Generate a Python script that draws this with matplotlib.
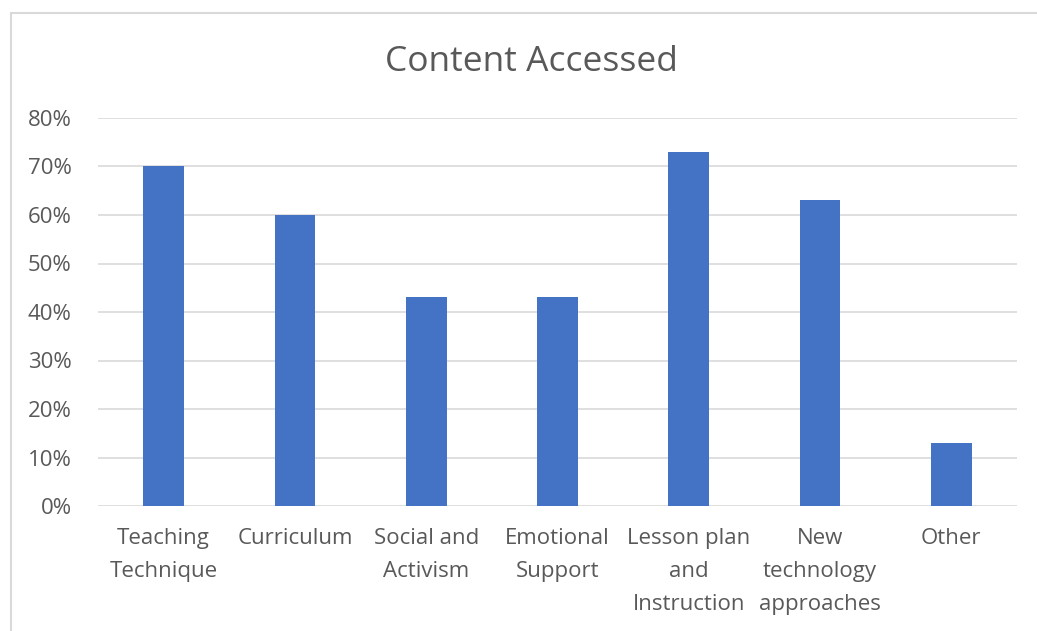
import matplotlib.pyplot as plt
from matplotlib.patches import Rectangle
from matplotlib.ticker import PercentFormatter

categories = ["Teaching\nTechnique", "Curriculum", "Social and\nActivism",
              "Emotional\nSupport", "Lesson plan\nand\nInstruction",
              "New\ntechnology\napproaches", "Other"]
values = [70, 60, 43, 43, 73, 63, 13]
yticks = [0, 10, 20, 30, 40, 50, 60, 70, 80]

plt.rcParams['font.family'] = ['Open Sans', 'DejaVu Sans']
text_color = '#595959'

fig = plt.figure(figsize=(10.37, 6.31), dpi=100)
ax = fig.add_axes([98 / 1037, 1 - 506 / 631, (1017 - 98) / 1037, (506 - 118) / 631])

# chart frame
fig.patches.append(Rectangle((11 / 1037, -0.1), 1.1, 1 - 13 / 631 + 0.1,
                             transform=fig.transFigure, fill=False,
                             edgecolor='#d9d9d9', linewidth=1.5))

x = range(len(categories))
ax.bar(x, values, width=0.31, color='#4472c4', zorder=3)

ax.set_xlim(-0.5, len(categories) - 0.5)
ax.set_ylim(0, 80)
ax.set_yticks(yticks)
ax.yaxis.set_major_formatter(PercentFormatter(decimals=0))
ax.set_xticks(list(x))
ax.set_xticklabels(categories, linespacing=1.74)
ax.grid(axis='y', color='#d9d9d9', linewidth=1.2, zorder=0)
for s in ax.spines.values():
    s.set_visible(False)
ax.tick_params(length=0, colors=text_color, labelsize=16)
ax.tick_params(axis='y', pad=19)
ax.tick_params(axis='x', pad=16)

fig.text(531 / 1037, 1 - 62 / 631, "Content Accessed", ha='center', va='center',
         fontsize=25.5, color=text_color)

fig.savefig('out.png', dpi=100)
